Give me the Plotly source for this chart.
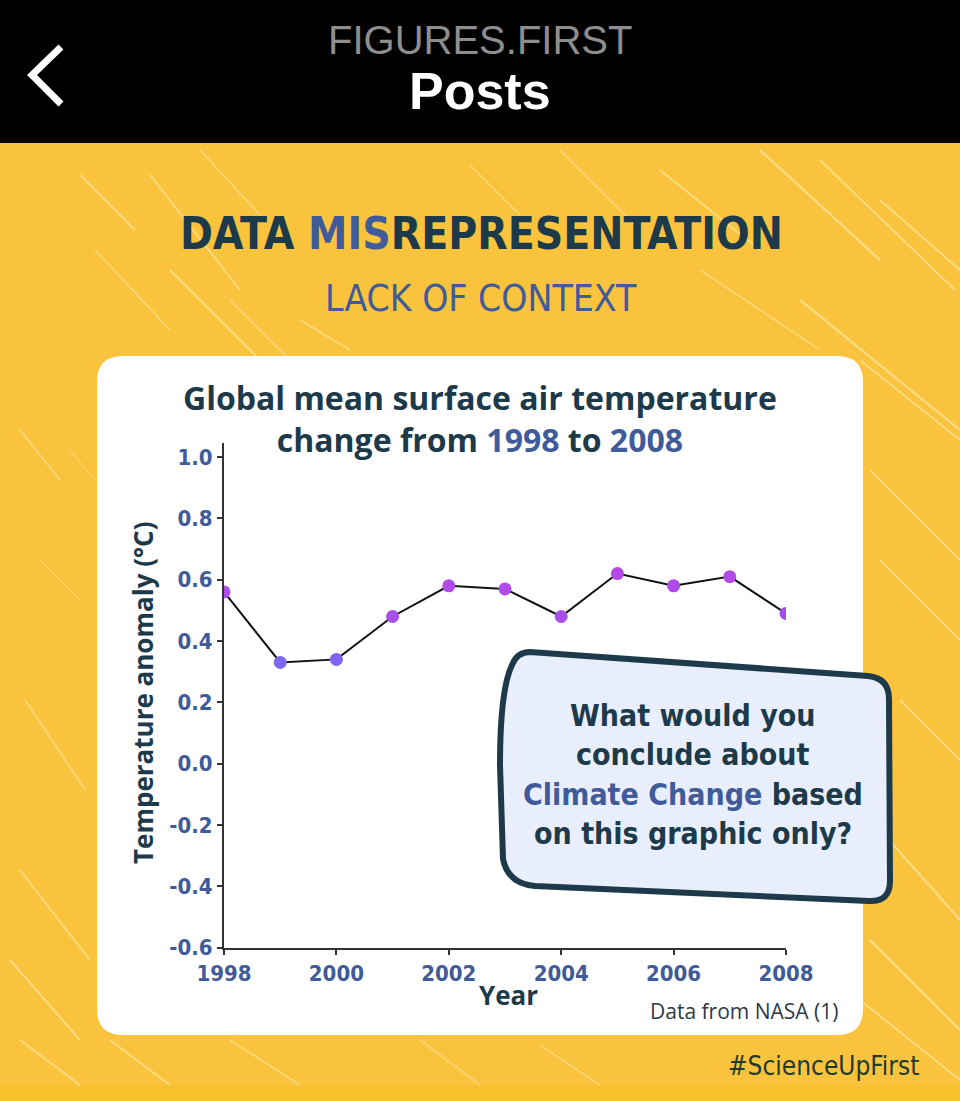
import plotly.graph_objects as go

# ---------------- data ----------------
years = [1998, 1999, 2000, 2001, 2002, 2003, 2004, 2005, 2006, 2007, 2008]
anomaly = [0.56, 0.33, 0.34, 0.48, 0.58, 0.57, 0.48, 0.62, 0.58, 0.61, 0.49]
y_ticks = [1.0, 0.8, 0.6, 0.4, 0.2, 0.0, -0.2, -0.4, -0.6]
x_ticks = [1998, 2000, 2002, 2004, 2006, 2008]

W, H = 960, 1101
NARROW = "Liberation Sans Narrow, DejaVu Sans Condensed, Arial Narrow, sans-serif"
OPEN = "Open Sans, Noto Sans, sans-serif"
DARK = "#1d3a4a"
BLUE = "#3f5b9a"
YELLOW = "#f9c33d"


def px(x):
    return x / W


def py(y):
    return 1 - y / H


def path(cmds, close=True):
    out = []
    for c in cmds:
        op, pts = c[0], c[1:]
        s = op
        for (x, y) in pts:
            s += f" {px(x):.5f},{py(y):.5f}"
        out.append(s)
    return " ".join(out) + (" Z" if close else "")


fig = go.Figure()

fig.add_trace(go.Scatter(
    x=years, y=anomaly, mode="lines+markers",
    line=dict(color="#111111", width=2),
    marker=dict(size=13, color=anomaly, cmin=min(anomaly), cmax=max(anomaly),
                colorscale=[[0, "#7f66ee"], [0.5, "#a74fe8"], [1, "#b44ae6"]],
                showscale=False),
    showlegend=False, hoverinfo="x+y",
))

shapes = []
# yellow background
shapes.append(dict(type="rect", xref="paper", yref="paper", x0=0, x1=1, y0=0, y1=1,
                   fillcolor=YELLOW, line=dict(width=0), layer="below"))
shapes.append(dict(type="rect", xref="paper", yref="paper", x0=0, x1=1, y0=0, y1=py(1086),
                   fillcolor="#f7c02c", line=dict(width=0), layer="below"))
# light streaks (decoration)
streaks = [
    (80, 175, 135, 230, 2), (150, 175, 240, 290, 2), (200, 150, 260, 215, 1.5),
    (95, 250, 170, 330, 1.5), (170, 270, 260, 360, 2), (230, 300, 300, 370, 1.5),
    (20, 430, 60, 480, 1.5), (70, 450, 95, 480, 1), (40, 560, 80, 600, 1),
    (660, 170, 760, 250, 2), (760, 150, 880, 260, 2.5), (820, 160, 955, 290, 2),
    (880, 200, 960, 270, 2), (700, 270, 820, 350, 1.5), (800, 300, 960, 430, 2.5),
    (860, 360, 960, 440, 2), (870, 470, 960, 560, 2), (880, 560, 960, 640, 2),
    (900, 700, 960, 760, 2), (880, 830, 960, 920, 2.5), (870, 940, 960, 1030, 2.5),
    (860, 1000, 960, 1080, 2), (20, 1040, 80, 1085, 2), (110, 1040, 170, 1085, 2),
    (230, 1040, 300, 1085, 1.5), (420, 1040, 480, 1085, 1.5), (540, 1045, 600, 1085, 1.5),
    (20, 870, 90, 960, 2), (10, 960, 80, 1040, 2), (25, 700, 85, 790, 1.5),
    (470, 165, 520, 215, 1.5), (560, 150, 640, 230, 1.5), (300, 320, 350, 350, 1.5),
]
for (x0, y0, x1, y1, w) in streaks:
    shapes.append(dict(type="line", xref="paper", yref="paper",
                       x0=px(x0), y0=py(y0), x1=px(x1), y1=py(y1),
                       line=dict(color="rgba(255,236,180,0.55)", width=w), layer="below"))
# black top bar
shapes.append(dict(type="rect", xref="paper", yref="paper", x0=0, x1=1, y0=py(143), y1=1,
                   fillcolor="#000000", line=dict(width=0), layer="below"))
# back chevron
shapes.append(dict(type="path", xref="paper", yref="paper",
                   path=path([("M", (61, 47)), ("L", (32, 75)), ("L", (61, 104))], close=False),
                   line=dict(color="white", width=7), layer="above"))
# white card
r = 26
x0c, x1c, y0c, y1c = 97, 863, 356, 1035
card = [("M", (x0c + r, y0c)), ("L", (x1c - r, y0c)), ("Q", (x1c, y0c), (x1c, y0c + r)),
        ("L", (x1c, y1c - r)), ("Q", (x1c, y1c), (x1c - r, y1c)), ("L", (x0c + r, y1c)),
        ("Q", (x0c, y1c), (x0c, y1c - r)), ("L", (x0c, y0c + r)), ("Q", (x0c, y0c), (x0c + r, y0c))]
shapes.append(dict(type="path", xref="paper", yref="paper", path=path(card),
                   fillcolor="white", line=dict(width=0), layer="below"))
# callout bubble
bubble = [("M", (530, 652)), ("L", (868, 676)), ("Q", (889, 678), (889, 699)),
          ("L", (890, 881)), ("Q", (890, 902), (869, 901)), ("L", (535, 886)),
          ("Q", (508, 884), (503, 859)), ("L", (500, 765)), ("Q", (500, 690), (512, 665)),
          ("Q", (517, 652), (530, 652))]
shapes.append(dict(type="path", xref="paper", yref="paper", path=path(bubble),
                   fillcolor="#e8eefb", line=dict(color="#1e3a4a", width=6), layer="above"))

ann = []


def text(x, y, t, size, color, family, weight="normal", xanchor="center", angle=0):
    ann.append(dict(x=px(x), y=py(y), xref="paper", yref="paper", text=t, showarrow=False,
                    xanchor=xanchor, yanchor="middle", textangle=angle,
                    font=dict(size=size, color=color, family=family, weight=weight)))


text(480, 40, "FIGURES.FIRST", 40, "#8e8e8e", "Liberation Sans, Arial, sans-serif")
text(480, 91, "Posts", 52, "white", "Liberation Sans, Arial, sans-serif", "bold")
text(481, 233, f"<span style='color:{DARK}'>DATA </span><span style='color:{BLUE}'>MIS</span>"
     f"<span style='color:{DARK}'>REPRESENTATION</span>", 44, DARK, NARROW, "bold")
text(481, 298, "LACK OF CONTEXT", 37, BLUE, NARROW)
text(480, 418, f"Global mean surface air temperature<br>change from "
     f"<span style='color:{BLUE}'>1998</span> to <span style='color:{BLUE}'>2008</span>",
     32, DARK, OPEN, "bold")
text(143, 693, "Temperature anomaly (°C)", 26, DARK, OPEN, "bold", angle=-90)
text(508, 995, "Year", 26, DARK, OPEN, "bold")
text(840, 1011, "Data from NASA (1)", 21, "#2d3a48", OPEN, xanchor="right")
text(693, 715, "What would you", 30, DARK, NARROW, "bold")
text(693, 754, "conclude about", 30, DARK, NARROW, "bold")
text(693, 794, f"<span style='color:{BLUE}'>Climate Change</span> based", 30, DARK, NARROW, "bold")
text(693, 833, "on this graphic only?", 30, DARK, NARROW, "bold")
text(823, 1066, "#ScienceUpFirst", 26, "#1f3a2f", NARROW)

axis_common = dict(showgrid=False, zeroline=False, showline=True, linecolor="#333333",
                   linewidth=2, ticks="outside", ticklen=5, tickwidth=1.5, tickcolor="#333333",
                   automargin=False,
                   tickfont=dict(family=NARROW, size=22, color=BLUE, weight="bold"))

fig.update_layout(
    width=W, height=H, autosize=False,
    margin=dict(l=0, r=0, t=0, b=0, pad=0, autoexpand=False),
    paper_bgcolor=YELLOW, plot_bgcolor="rgba(0,0,0,0)",
    shapes=shapes, annotations=ann, showlegend=False,
    xaxis=dict(domain=[px(224), px(786)], range=[1998, 2008], tickvals=x_ticks,
               ticktext=[str(v) for v in x_ticks], **axis_common),
    yaxis=dict(domain=[py(947.5), py(443)], range=[-0.6, 1.046], tickvals=y_ticks,
               ticktext=[f"{v:.1f}" for v in y_ticks], **axis_common),
)

fig.write_html("out.html", config={"displayModeBar": False},
               post_script="document.body.style.margin='0';document.body.style.overflow='hidden';")
